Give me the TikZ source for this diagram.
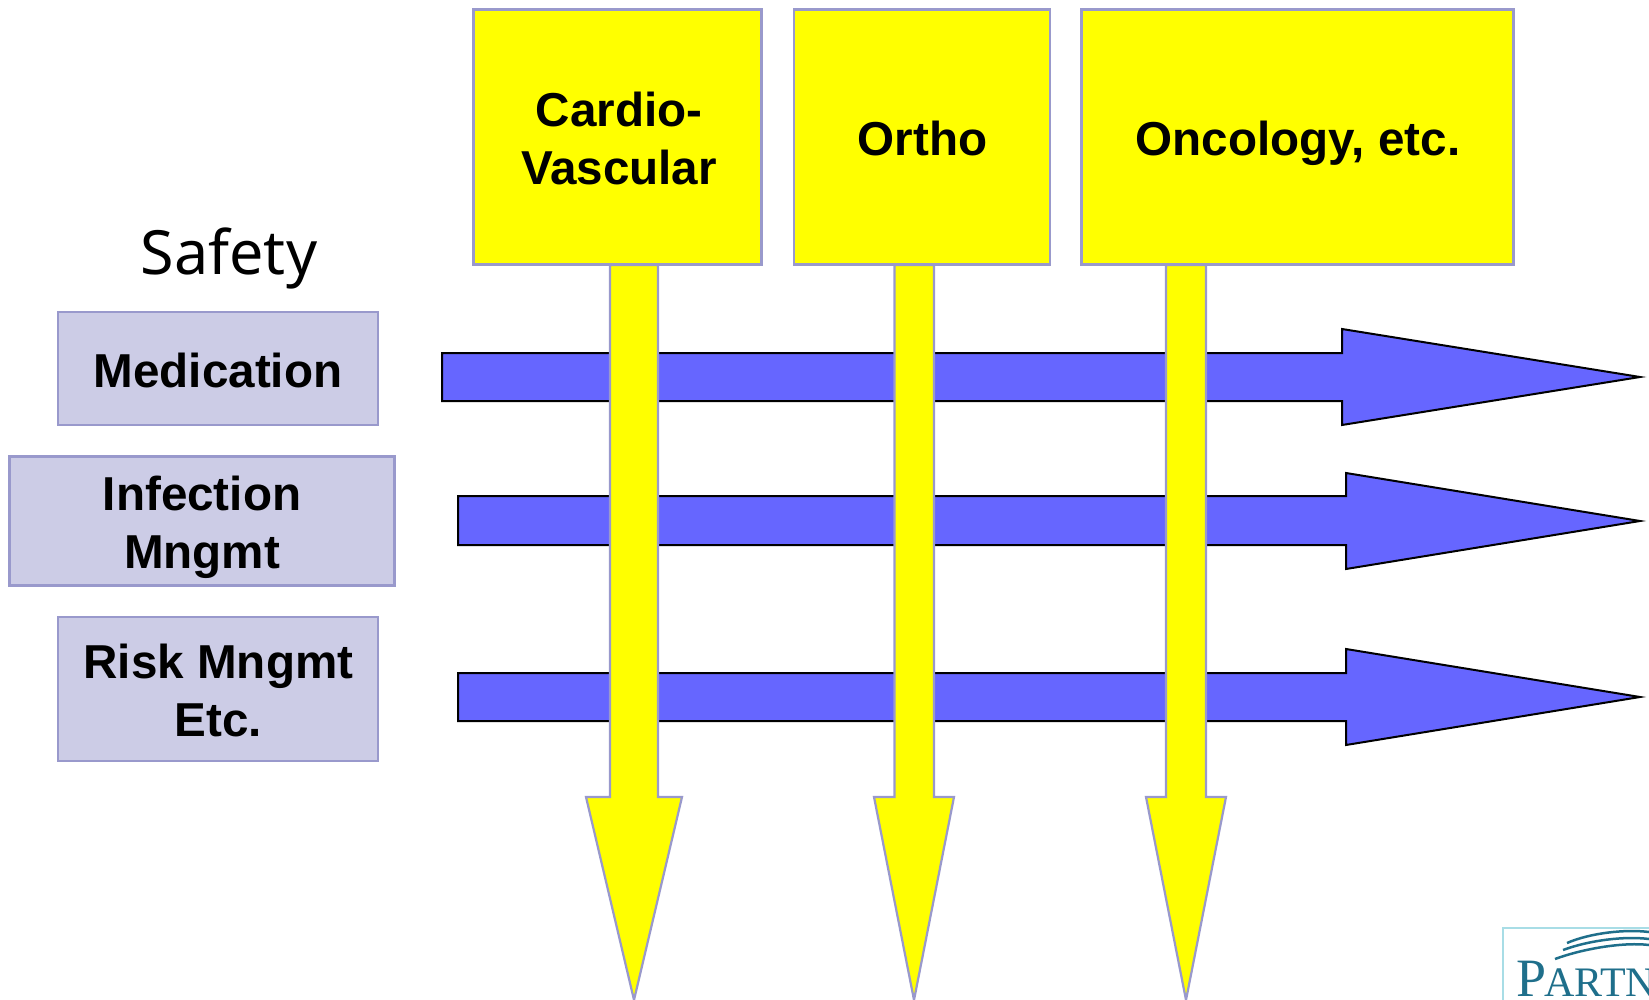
\documentclass[tikz,border=0pt]{standalone}
\usepackage{fontspec}
\setmainfont{Liberation Sans}
\newfontfamily\safetyfont{Noto Sans}
\newfontfamily\logofont{Liberation Serif}
\definecolor{edgeblue}{HTML}{9999CC}
\definecolor{lav}{HTML}{CCCCE6}
\definecolor{arrowblue}{HTML}{6666FF}
\definecolor{yel}{HTML}{FFFF00}
\definecolor{teal}{HTML}{1F6F8B}
\definecolor{logoedge}{HTML}{A8DDE6}
\tikzset{
  x=1pt,y=-1pt,
  sidebox/.style={draw=edgeblue,fill=lav,line width=2.4pt,inner sep=0pt},
  headbox/.style={draw=edgeblue,fill=yel,line width=2.4pt,inner sep=0pt},
  boxtext/.style={inner sep=0pt,align=center,font=\fontsize{47.6}{58}\selectfont\bfseries},
  hband/.style={draw=black,fill=arrowblue,line width=2pt,miter limit=10},
  vband/.style={draw=edgeblue,fill=yel,line width=2.2pt,miter limit=10},
}
\newcommand{\hbandarrow}[7]{% x0, y0, y1, xh, yh0, yh1, xt
  \draw[hband] (#1,#2) -- (#4,#2) -- (#4,#5) -- (#7,{(#5+#6)/2}) -- (#4,#6) -- (#4,#3) -- (#1,#3) -- cycle;}
\newcommand{\vbandarrow}[7]{% x0,x1,y0,yh,xh0,xh1,xt
  \draw[vband] (#1,#3) -- (#1,#4) -- (#5,#4) -- (#7,1000) -- (#6,#4) -- (#2,#4) -- (#2,#3) -- cycle;}
\begin{document}
\begin{tikzpicture}
\useasboundingbox (0,0) rectangle (1649,1000);
% horizontal arrows
\hbandarrow{442}{353}{401}{1342}{329}{425}{1640}
\hbandarrow{458}{496}{545}{1346}{473}{569}{1640}
\hbandarrow{458}{673}{721}{1346}{649}{745}{1640}
% vertical arrows
\vbandarrow{610}{658}{265}{797}{586}{682}{634}
\vbandarrow{894.5}{934}{265}{797}{874}{954}{914}
\vbandarrow{1166}{1206}{265}{797}{1146}{1226}{1186}
% column headers
\node[headbox,minimum width=288pt,minimum height=255pt] (cardio) at (617.5,137) {};
\node[headbox,minimum width=256pt,minimum height=255pt] (ortho) at (922,137) {};
\node[headbox,minimum width=432pt,minimum height=255pt] (onco) at (1297.5,137) {};
\node[boxtext] (cardiot) at (619,138) {Cardio-\\Vascular};
\node[boxtext] (orthot) at (922.5,138) {Ortho};
\node[boxtext] (oncot) at (1298,143) {Oncology, etc.};
% row labels
\node[font=\safetyfont\fontsize{61}{70}\selectfont] (safety) at (229,258) {Safety};
\node[sidebox,minimum width=320pt,minimum height=113pt] (med) at (218,368.5) {};
\node[sidebox,minimum width=385pt,minimum height=129pt] (inf) at (202,521) {};
\node[sidebox,minimum width=320pt,minimum height=144pt] (risk) at (218,689) {};
\node[boxtext] (medt) at (218,370) {Medication};
\node[boxtext] (inft) at (202,527) {Infection\\Mngmt};
\node[boxtext] (riskt) at (218.5,690) {Risk Mngmt\\Etc.};
% logo
\begin{scope}
\clip (0,0) rectangle (1649,1000);
\draw[logoedge,line width=2pt] (1649,928) -- (1503,928) -- (1503,1000);
\draw[teal,line width=2.5pt] (1567,943) .. controls (1590,933) and (1625,929) .. (1649,932);
\draw[teal,line width=2.5pt] (1563,950) .. controls (1590,940) and (1625,936) .. (1649,939);
\draw[teal,line width=2.5pt] (1555,959) .. controls (1585,948) and (1625,942) .. (1649,945);
\node[teal,anchor=base west,inner sep=0pt,font=\logofont] (logo) at (1516,996)
  {\fontsize{54}{54}\selectfont P\kern-2pt\fontsize{42}{42}\selectfont ARTN};
\end{scope}
\end{tikzpicture}
\end{document}
